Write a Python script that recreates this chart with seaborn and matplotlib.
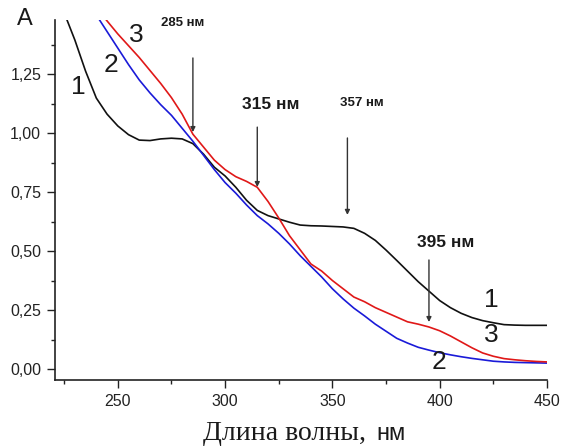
import numpy as np
import pandas as pd
import matplotlib
matplotlib.use("Agg")
import matplotlib.pyplot as plt
from matplotlib.ticker import MultipleLocator, FuncFormatter
import seaborn as sns

# Absorption spectra of samples 1-3
wavelength = [225, 230, 235, 240, 245, 250, 255, 260, 265, 270, 275, 280, 285,
              290, 295, 300, 305, 310, 315, 320, 325, 330, 335, 340, 345, 350,
              355, 360, 365, 370, 375, 380, 385, 390, 395, 400, 405, 410, 415,
              420, 425, 430, 435, 440, 445, 450]
absorbance_1 = [1.51, 1.394, 1.262, 1.148, 1.08, 1.03, 0.993, 0.97, 0.968,
                0.975, 0.978, 0.975, 0.955, 0.91, 0.855, 0.818, 0.77, 0.715,
                0.672, 0.65, 0.636, 0.622, 0.61, 0.607, 0.606, 0.604, 0.602,
                0.596, 0.575, 0.545, 0.504, 0.46, 0.415, 0.37, 0.33, 0.29,
                0.26, 0.236, 0.218, 0.205, 0.196, 0.188, 0.186, 0.185, 0.185,
                0.185]
absorbance_2 = [np.nan, np.nan, np.nan, 1.50, 1.43, 1.36, 1.29, 1.225, 1.17,
                1.12, 1.075, 1.02, 0.965, 0.905, 0.845, 0.79, 0.745, 0.695,
                0.65, 0.615, 0.575, 0.53, 0.48, 0.435, 0.39, 0.34, 0.297,
                0.258, 0.225, 0.19, 0.16, 0.13, 0.11, 0.092, 0.08, 0.069,
                0.06, 0.052, 0.045, 0.039, 0.033, 0.03, 0.028, 0.027, 0.026,
                0.025]
absorbance_3 = [np.nan, np.nan, np.nan, 1.53, 1.475, 1.42, 1.37, 1.32, 1.265,
                1.21, 1.15, 1.08, 0.995, 0.94, 0.885, 0.845, 0.815, 0.795,
                0.77, 0.71, 0.64, 0.565, 0.505, 0.445, 0.415, 0.375, 0.34,
                0.305, 0.285, 0.26, 0.24, 0.22, 0.2, 0.19, 0.178, 0.162,
                0.14, 0.115, 0.09, 0.068, 0.054, 0.044, 0.039, 0.035, 0.032,
                0.03]
curve_names = ["1", "2", "3"]
curve_colors = ["#111111", "#1a1ad8", "#e01818"]

# Marked absorption bands: (wavelength, arrow start, arrow tip)
band_labels = ["285 нм", "315 нм", "357 нм", "395 нм"]
band_nm = [285, 315, 357, 395]
arrow_from = [1.318, 1.025, 0.979, 0.462]
arrow_to = [1.004, 0.771, 0.653, 0.199]

df = pd.DataFrame({
    "wavelength": wavelength * 3,
    "A": absorbance_1 + absorbance_2 + absorbance_3,
    "curve": sum([[n] * len(wavelength) for n in curve_names], []),
})

sns.set_theme(style="ticks")
plt.rcParams["font.family"] = ["Liberation Sans", "DejaVu Sans"]

fig = plt.figure(figsize=(5.66, 4.47), dpi=100)
ax = fig.add_axes([0.0972, 0.1499, 0.8692, 0.8054])

sns.lineplot(data=df, x="wavelength", y="A", hue="curve",
             palette=dict(zip(curve_names, curve_colors)),
             linewidth=1.2, legend=False, ax=ax)

ax.set_xlim(220.75, 450)
ax.set_ylim(-0.0466, 1.479)
ax.xaxis.set_major_locator(MultipleLocator(50))
ax.xaxis.set_minor_locator(MultipleLocator(25))
ax.yaxis.set_major_locator(MultipleLocator(0.25))
ax.yaxis.set_minor_locator(MultipleLocator(0.125))
ax.yaxis.set_major_formatter(FuncFormatter(lambda v, p: f"{v:.2f}".replace(".", ",")))
ax.tick_params(which="major", direction="out", length=6, width=1.0,
               labelsize=11.5, color="#222222", labelcolor="#222222", pad=4)
ax.tick_params(which="minor", direction="out", length=3, width=1.0, color="#222222")
for side in ("top", "right"):
    ax.spines[side].set_visible(False)
for side in ("left", "bottom"):
    ax.spines[side].set_linewidth(1.2)
    ax.spines[side].set_color("#222222")
ax.set_xlabel("")
ax.set_ylabel("")

# Curve numbers
num_kw = dict(fontsize=19, color="#1a1a1a", ha="center", va="center")
ax.text(231.4, 1.195, "1", **num_kw)
ax.text(246.8, 1.288, "2", **num_kw)
ax.text(258.8, 1.415, "3", **num_kw)
ax.text(424.0, 0.292, "1", **num_kw)
ax.text(424.0, 0.144, "3", **num_kw)
ax.text(399.5, 0.030, "2", **num_kw)

# Band arrows and labels
label_pos = [(280.0, 1.466), (321.5, 1.119), (363.7, 1.127), (402.7, 0.534)]
label_size = [9.5, 12.5, 9.5, 12.5]
for lab, nm, y0, y1, (lx, ly), fs in zip(band_labels, band_nm, arrow_from,
                                         arrow_to, label_pos, label_size):
    ax.annotate("", xy=(nm, y1), xytext=(nm, y0),
                arrowprops=dict(arrowstyle="-|>", color="#333333", lw=1.0,
                                mutation_scale=7, shrinkA=0, shrinkB=0))
    ax.text(lx, ly, lab, fontsize=fs, fontweight="bold", color="#1a1a1a",
            ha="center", va="center")

# Axis titles
fig.text(25 / 566, 1 - 19 / 447, "A", fontsize=17, color="#1a1a1a",
         ha="center", va="center")
fig.text(373 / 566, 1 - 440 / 447, "Длина волны, ", fontsize=20,
         family=["Liberation Serif", "DejaVu Serif"], color="#1a1a1a",
         ha="right", va="baseline")
fig.text(376 / 566, 1 - 440 / 447, "нм", fontsize=17, color="#1a1a1a",
         ha="left", va="baseline")

fig.savefig("out.png", dpi=100)
